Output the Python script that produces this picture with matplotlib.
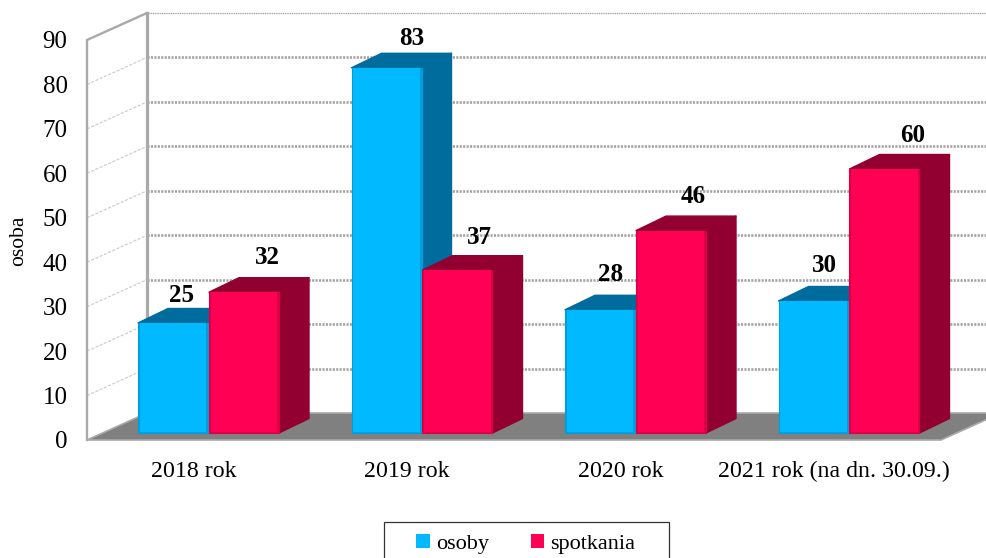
import matplotlib
matplotlib.use("Agg")
import matplotlib.pyplot as plt
from matplotlib.patches import Polygon, Patch, Rectangle

categories = ["2018 rok", "2019 rok", "2020 rok", "2021 rok (na dn. 30.09.)"]
osoby = [25, 83, 28, 30]
spotkania = [32, 37, 46, 60]
y_ticks = list(range(0, 100, 10))
label_shift_osoby = [(9, 28), (25, 29), (11, 35), (11, 35)]
label_shift_spotkania = [(23, 35), (22, 33), (22, 34), (28, 34)]

W, H = 987, 558
plt.rcParams["font.family"] = ["Liberation Serif", "DejaVu Serif"]
fig = plt.figure(figsize=(W / 100, H / 100), dpi=100, facecolor="white")
L, R, B, T = 87, 941, 440, 40
ax = fig.add_axes([L / W, 1 - B / H, (R - L) / W, (B - T) / H])
ax.set_xlim(-0.5, 3.5)
ax.set_ylim(0, 90)
px = (R - L) / 4      # pixels per category
py = (B - T) / 90     # pixels per unit

wall_dx, wall_dy = 60 / px, 27 / py
bar_w = 70 / px
gap = 0.5 / px
bar_dx, bar_dy = 30 / px, 14.5 / py
bar_shift = 14.75 / px
bar_base = 7 / py
bar_scale = 0.99      # foreshortening of the bar fronts
GRID = "#a3a3a3"
WALL = "#a9a9a9"

for s in ax.spines.values():
    s.set_visible(False)
ax.patch.set_visible(False)
ax.set_xticks(range(len(categories)), categories)
ax.set_yticks(y_ticks)
ax.tick_params(axis="x", length=0, pad=15, labelsize=17.2)
ax.tick_params(axis="y", length=0, pad=14, labelsize=18)
fig.text(18.5 / W, 1 - 241 / H, "osoba", rotation=90, ha="center", va="center", fontsize=15.5)

# floor
ax.add_patch(Polygon([(-0.5, 0), (-0.5 + wall_dx, wall_dy), (3.5 + wall_dx, wall_dy), (3.5, 0)],
                     closed=True, fc="#808080", ec="#a9a9a9", lw=1.2, clip_on=False, zorder=1))
# back-wall gridlines and side-wall gridlines
xe = 3.5 + wall_dx
for v in y_ticks[1:]:
    top = v == 90
    ax.plot([-0.5 + wall_dx, xe], [v + wall_dy] * 2, color=GRID, clip_on=False, zorder=1,
            lw=1.0 if top else 1.9, ls=(0, (0.8, 0.5)))
    if not top:
        ax.plot([-0.5, -0.5 + wall_dx], [v, v + wall_dy], color="#cfcfcf", lw=0.9,
                ls=(0, (2.5, 1.2)), clip_on=False, zorder=1)
# wall frame
ax.plot([-0.5, -0.5, -0.5 + wall_dx], [0, 90, 90 + wall_dy], color=WALL, lw=1.7,
        clip_on=False, zorder=2, solid_joinstyle="miter")
ax.plot([-0.5 + wall_dx] * 2, [wall_dy, 90 + wall_dy], color=WALL, lw=2.3, clip_on=False, zorder=2)


def draw_bar(x0, v, front, dark, edge, z):
    top = bar_base + v * bar_scale
    side = [(x0 + bar_w, bar_base), (x0 + bar_w + bar_dx, bar_base + bar_dy),
            (x0 + bar_w + bar_dx, top + bar_dy), (x0 + bar_w, top)]
    cap = [(x0, top), (x0 + bar_dx, top + bar_dy), (x0 + bar_w + bar_dx, top + bar_dy), (x0 + bar_w, top)]
    ax.add_patch(Polygon(side, closed=True, fc=dark, ec=dark, lw=1.0, joinstyle="round", clip_on=False, zorder=z))
    ax.add_patch(Polygon(cap, closed=True, fc=dark, ec=dark, lw=1.0, joinstyle="round", clip_on=False, zorder=z))
    ax.bar(x0, v * bar_scale, width=bar_w, bottom=bar_base, align="edge", color=edge, edgecolor=edge,
           lw=0.8, joinstyle="round", clip_on=False, zorder=z + 0.1)
    inset = 1.8 / px
    ax.bar(x0 + inset, v * bar_scale - 1 / py, width=bar_w - 2 * inset, bottom=bar_base + 1 / py,
           align="edge", color=front, lw=0, clip_on=False, zorder=z + 0.2)


BLUE, BLUE_D, BLUE_E = "#00B9FF", "#006C9E", "#009FDC"
PINK, PINK_D, PINK_E = "#FF0055", "#920032", "#DC0049"
for i, (a, b) in enumerate(zip(osoby, spotkania)):
    c = i + bar_shift
    draw_bar(c - bar_w - gap, a, BLUE, BLUE_D, BLUE_E, 3 + i)
    draw_bar(c + gap, b, PINK, PINK_D, PINK_E, 3.5 + i)
    for val, x0, (dx, dy) in ((a, c - bar_w - gap, label_shift_osoby[i]), (b, c + gap, label_shift_spotkania[i])):
        ax.annotate(str(val), (x0 + bar_w / 2, bar_base + val * bar_scale),
                    xytext=(dx * 0.72, dy * 0.72), textcoords="offset points",
                    ha="center", va="center", fontsize=18, fontweight="bold",
                    annotation_clip=False, zorder=20)

# legend box runs off the lower edge of the picture
fig.add_artist(Rectangle((384 / W, 1 - 570 / H), 285 / W, 48 / H, transform=fig.transFigure,
                         fc="white", ec="#333333", lw=0.9, zorder=5))
leg = fig.legend(handles=[Patch(fc=BLUE, label="osoby"), Patch(fc=PINK, label="spotkania")],
                 loc="center", bbox_to_anchor=(526 / W, 1 - 544 / H), ncol=2, fontsize=16,
                 frameon=False, handlelength=0.6, handleheight=0.6, handletextpad=0.3,
                 columnspacing=1.85, borderpad=0, borderaxespad=0)
leg.set_zorder(6)

fig.savefig("out.png", dpi=100)
